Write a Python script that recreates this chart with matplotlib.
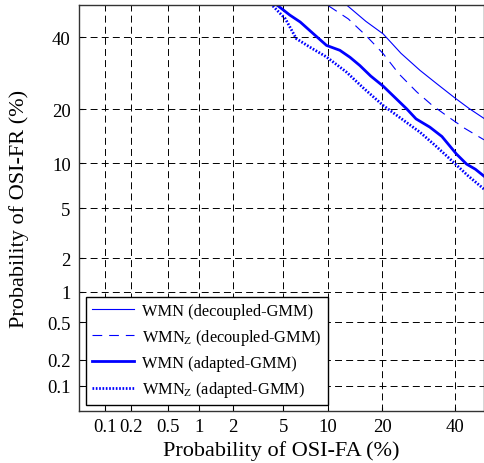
"""DET curve: OSI-FR vs OSI-FA on normal-deviate axes."""
from statistics import NormalDist

import matplotlib
matplotlib.use("Agg")
import matplotlib.pyplot as plt
import numpy as np

# --- data (percent) ---
wmn_dec_fa = [13.1, 16.5, 20.2, 24.5, 29.6, 34.5, 40.0, 44.5, 49.3]
wmn_dec_fr = [50.0, 45.0, 41.0, 35.0, 30.0, 26.3, 22.7, 20.2, 18.0]

wmnz_dec_fa = [10.1, 13.2, 16.5, 20.2, 24.0, 28.7, 33.0, 37.4, 43.0, 49.3]
wmnz_dec_fr = [50.0, 45.8, 40.5, 34.9, 29.0, 24.2, 21.0, 18.6, 16.0, 13.8]

wmn_ad_fa = [4.6, 5.6, 6.6, 8.1, 9.8, 11.8, 13.5, 15.3, 17.5, 20.2, 23.0,
             26.0, 28.5, 32.4, 36.0, 40.5, 43.7, 46.5, 49.3]
wmn_ad_fr = [50.0, 47.0, 44.8, 41.0, 37.4, 35.9, 33.8, 31.4, 28.4, 25.7,
             22.8, 20.1, 17.9, 16.2, 14.4, 11.4, 9.9, 9.2, 8.3]

wmnz_ad_fa = [4.2, 5.2, 6.2, 7.9, 9.8, 12.9, 16.0, 20.2, 24.5, 29.6, 34.0,
              39.5, 44.0, 49.3]
wmnz_ad_fr = [50.0, 45.8, 39.5, 36.5, 33.9, 29.5, 25.2, 20.9, 18.0, 15.2,
              12.8, 10.2, 8.4, 6.8]

x_ticks = [0.1, 0.2, 0.5, 1, 2, 5, 10, 20, 40]
x_ticklabels = ["0.1", "0.2", "0.5", "1", "2", "5", "10", "20", "40"]
y_ticks = [0.1, 0.2, 0.5, 1, 2, 5, 10, 20, 40]
y_ticklabels = ["0.1", "0.2", "0.5", "1", "2", "5", "10", "20", "40"]

_nd = NormalDist()
_ppf = np.vectorize(_nd.inv_cdf, otypes=[float])
_cdf = np.vectorize(_nd.cdf, otypes=[float])


def probit(x):
    p = np.clip(np.asarray(x, dtype=float) / 100.0, 1e-9, 1 - 1e-9)
    return _ppf(p)


def inv_probit(z):
    return _cdf(np.asarray(z, dtype=float)) * 100.0


plt.rcParams["font.family"] = ["Liberation Serif", "DejaVu Serif"]
plt.rcParams["mathtext.fontset"] = "custom"
plt.rcParams["mathtext.rm"] = "Liberation Serif"
plt.rcParams["mathtext.it"] = "Liberation Serif"
plt.rcParams["lines.scale_dashes"] = False

fig = plt.figure(figsize=(4.84, 4.64), dpi=100)
ax = fig.add_axes([79 / 484, 52.3 / 464, 405 / 484, 405.7 / 464])
ax.set_xscale("function", functions=(probit, inv_probit))
ax.set_yscale("function", functions=(probit, inv_probit))

blue = "#0000ff"
ax.plot(wmn_dec_fa, wmn_dec_fr, color=blue, lw=0.8,
        label="WMN (decoupled-GMM)")
ax.plot(wmnz_dec_fa, wmnz_dec_fr, color=blue, lw=0.8,
        linestyle=(0, (7, 5)), label="WMN$_{\\rm Z}$ (decoupled-GMM)")
ax.plot(wmn_ad_fa, wmn_ad_fr, color=blue, lw=2.0,
        label="WMN (adapted-GMM)")
ax.plot(wmnz_ad_fa, wmnz_ad_fr, color=blue, lw=2.0,
        linestyle=(0, (1.2, 1.2)), label="WMN$_{\\rm Z}$ (adapted-GMM)")

ax.set_xlim(0.0487, 49.3)
ax.set_ylim(0.0494, 50.3)
ax.set_xticks(x_ticks, x_ticklabels)
ax.set_yticks(y_ticks, y_ticklabels)
ax.minorticks_off()
ax.tick_params(direction="in", length=3, labelsize=13.5, colors="black")
ax.tick_params(axis="x", pad=5)
ax.tick_params(axis="y", pad=6)
ax.grid(True, color="black", lw=0.7, linestyle=(0, (5, 3)))

for s in ax.spines.values():
    s.set_color("#333333")
    s.set_linewidth(1.0)

ax.set_xlabel("Probability of OSI-FA (%)", fontsize=16, labelpad=4)
ax.set_ylabel("Probability of OSI-FR (%)", fontsize=16, labelpad=13)

leg = ax.legend(loc="lower left", bbox_to_anchor=(0.017, 0.014),
                fontsize=11.8, frameon=True, fancybox=False,
                handlelength=2.6, handletextpad=0.5, labelspacing=0.5,
                borderpad=0.35, borderaxespad=0)
leg.get_frame().set_edgecolor("black")
leg.get_frame().set_linewidth(1.0)
leg.get_frame().set_alpha(1)

fig.savefig("out.png", dpi=100)
